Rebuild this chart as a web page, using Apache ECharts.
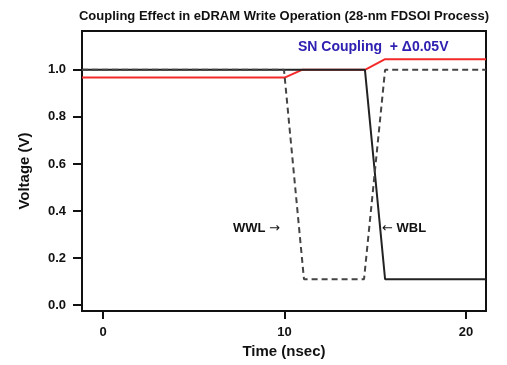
<!DOCTYPE html>
<html>
<head>
<meta charset="utf-8">
<script src="https://cdn.jsdelivr.net/npm/echarts@6/dist/echarts.min.js"></script>
<style>
  html, body { margin: 0; padding: 0; background: #fff; }
  #chart { width: 507px; height: 365px; }
</style>
</head>
<body>
<div id="chart"></div>
<script>
// time in nsec, voltage in V
const wblTime = [-1.16, 14.43, 15.54, 21.1];
const wblVolt = [1.0, 1.0, 0.11, 0.11];

const wwlTime = [-1.16, 9.97, 11.07, 14.38, 15.54, 21.1];
const wwlVolt = [1.0, 1.0, 0.11, 0.11, 1.0, 1.0];

const snTime = [-1.16, 10.0, 10.96, 14.43, 15.54, 21.1];
const snVolt = [0.967, 0.967, 1.0, 1.0, 1.045, 1.045];

const xTicks = [0, 10, 20];
const yTicks = [0, 0.2, 0.4, 0.6, 0.8, 1.0];

const font = '"Liberation Sans", Arial, sans-serif';
const arrowStyle = { fontFamily: 'DejaVu Sans', fontSize: 13, fill: '#111' };

function pairs(t, v) {
  return t.map(function (x, i) { return [x, v[i]]; });
}

const chart = echarts.init(document.getElementById('chart'));
chart.setOption({
  animation: false,
  backgroundColor: '#fff',
  title: {
    text: 'Coupling Effect in eDRAM Write Operation (28-nm FDSOI Process)',
    left: 279,
    textAlign: 'center',
    top: 5,
    textStyle: { fontFamily: font, fontSize: 13, fontWeight: 'bold', color: '#111' }
  },
  grid: {
    left: 82, right: 21, top: 31, bottom: 54,
    show: true, borderColor: '#111', borderWidth: 2
  },
  xAxis: {
    type: 'value',
    min: -1.16,
    max: 21.1,
    name: 'Time (nsec)',
    nameLocation: 'middle',
    nameGap: 33,
    nameTextStyle: { fontFamily: font, fontSize: 15, fontWeight: 'bold', color: '#111' },
    axisLine: { show: false, onZero: false },
    splitLine: { show: false },
    axisTick: { show: true, customValues: xTicks, length: 8, lineStyle: { color: '#111', width: 2 } },
    axisLabel: { customValues: xTicks, margin: 15, fontFamily: font, fontSize: 13, fontWeight: 'bold', color: '#111' }
  },
  yAxis: {
    type: 'value',
    min: -0.025,
    max: 1.165,
    name: 'Voltage (V)',
    nameLocation: 'middle',
    nameGap: 50,
    nameTextStyle: { fontFamily: font, fontSize: 15, fontWeight: 'bold', color: '#111' },
    axisLine: { show: false, onZero: false },
    splitLine: { show: false },
    axisTick: { show: true, customValues: yTicks, length: 9, lineStyle: { color: '#111', width: 2 } },
    axisLabel: {
      customValues: yTicks, margin: 16, fontFamily: font, fontSize: 13, fontWeight: 'bold', color: '#111',
      formatter: function (v) { return v.toFixed(1); }
    }
  },
  series: [
    {
      name: 'SN', type: 'line', symbol: 'none',
      data: pairs(snTime, snVolt),
      lineStyle: { color: '#f42a2a', width: 2 }
    },
    {
      name: 'WBL', type: 'line', symbol: 'none',
      data: pairs(wblTime, wblVolt),
      lineStyle: { color: '#222', width: 2 }
    },
    {
      name: 'WWL', type: 'line', symbol: 'none',
      data: pairs(wwlTime, wwlVolt),
      lineStyle: { color: '#444', width: 2, type: [6, 4] }
    }
  ],
  graphic: [
    {
      type: 'text', left: 298, top: 40,
      style: { text: 'SN Coupling  + \u03940.05V', fontFamily: font, fontSize: 14, fontWeight: 'bold', fill: '#2e20b0' }
    },
    {
      type: 'text', left: 233, top: 222,
      style: {
        text: 'WWL {a|\u2192}', fontFamily: font, fontSize: 13, fontWeight: 'bold', fill: '#111',
        rich: { a: arrowStyle }
      }
    },
    {
      type: 'text', left: 382, top: 222,
      style: {
        text: '{a|\u2190} WBL', fontFamily: font, fontSize: 13, fontWeight: 'bold', fill: '#111',
        rich: { a: arrowStyle }
      }
    }
  ]
});
</script>
</body>
</html>
